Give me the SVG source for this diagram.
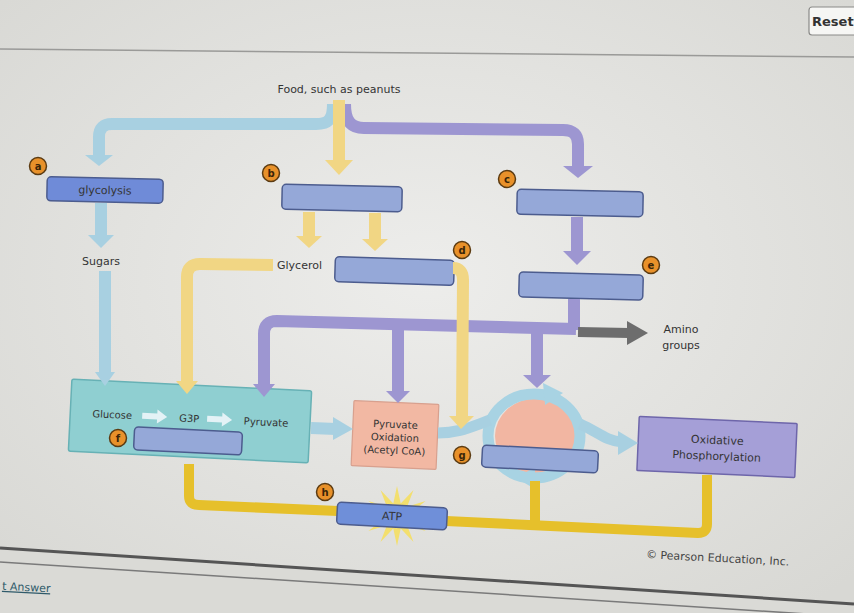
<svg xmlns="http://www.w3.org/2000/svg" width="854" height="613" viewBox="0 0 854 613">
<defs>
<radialGradient id="bg" cx="50%" cy="45%" r="70%">
<stop offset="0" stop-color="#ededeb"/>
<stop offset="1" stop-color="#d8d8d4"/>
</radialGradient>
<style>
text{font-family:"DejaVu Sans","Liberation Sans",sans-serif;fill:#343434}
.t11{font-size:11px}
.t10{font-size:10px}
.c{text-anchor:middle}
.box{fill:#95a8d8;stroke:#4c5c8e;stroke-width:1.5}
.pb{fill:none;stroke:#a8d0e1;stroke-width:12;stroke-linejoin:round}
.fb{fill:#a8d0e1}
.pp{fill:none;stroke:#9d96d1;stroke-width:12;stroke-linejoin:round}
.fp{fill:#9d96d1}
.py{fill:none;stroke:#f1d684;stroke-width:12;stroke-linejoin:round}
.fy{fill:#f1d684}
.pg{fill:none;stroke:#e6c02b;stroke-width:10;stroke-linejoin:round}
.lbl circle{fill:#e8912a;stroke:#5b3b12;stroke-width:1.5}
.lbl text{font-size:10px;font-weight:bold;fill:#3a2508;text-anchor:middle}
.wa{fill:#e4f2f6}
</style>
</defs>
<rect width="854" height="613" fill="url(#bg)"/>
<!-- page chrome -->
<line x1="0" y1="49" x2="854" y2="57" stroke="#9a9a98" stroke-width="1.5"/>
<rect x="809" y="7" width="60" height="28" rx="3" fill="#f6f6f4" stroke="#8a8a88" stroke-width="1.2"/>
<text x="812" y="26" style="font-size:13px;font-weight:bold;fill:#333">Reset</text>
<polygon points="0,548 854,604 854,613 0,613" fill="#dadad6"/>
<line x1="0" y1="548" x2="854" y2="604" stroke="#555" stroke-width="3"/>
<line x1="0" y1="562" x2="854" y2="617" stroke="#7a7a7a" stroke-width="1.5"/>
<text x="2" y="591" transform="rotate(3,25,590)" style="font-size:11px;fill:#2f5a6a;text-decoration:underline">t Answer</text>
<text x="646" y="562" transform="rotate(3,720,558)" class="t11" style="fill:#444">© Pearson Education, Inc.</text>

<text x="339" y="93" class="t11 c">Food, such as peanuts</text>
<text x="101" y="265" class="t11 c">Sugars</text>
<text x="277" y="269" class="t11">Glycerol</text>
<text x="681" y="333" class="t11 c">Amino</text>
<text x="681" y="349" class="t11 c">groups</text>

<!-- nodes -->
<g id="glycolysis" transform="rotate(1.2,105,190)">
<rect x="47" y="178" width="116" height="24" rx="4" fill="#6f8bd8" stroke="#4c5c8e" stroke-width="1.5"/>
<text x="105" y="194" class="t11 c">glycolysis</text>
</g>
<g id="box-b" transform="rotate(1.2,342,198)"><rect class="box" x="282" y="185.5" width="120" height="25" rx="4"/></g>
<g id="box-c" transform="rotate(1.1,580,203)"><rect class="box" x="517" y="190.5" width="126" height="25" rx="4"/></g>
<g id="box-d" transform="rotate(1.8,395,271)"><rect class="box" x="335" y="258.5" width="119" height="25" rx="4"/></g>
<g id="box-e" transform="rotate(1.5,581,286)"><rect class="box" x="519" y="273.5" width="124" height="25" rx="4"/></g>

<g id="glucose" transform="rotate(2.8,190,421)">
<rect x="70" y="385" width="240" height="72" rx="2" fill="#8fcfd1" stroke="#67b1b5" stroke-width="1.5"/>
<text x="112" y="422" class="t10 c">Glucose</text>
<path class="wa" d="M142,415 L157,415 L157,411 L167,418 L157,425 L157,421 L142,421 Z"/>
<text x="189" y="422" class="t10 c">G3P</text>
<path class="wa" d="M207,415 L222,415 L222,411 L232,418 L222,425 L222,421 L207,421 Z"/>
<text x="266" y="422" class="t10 c">Pyruvate</text>
<rect class="box" x="135" y="429.5" width="108" height="23" rx="4"/>
</g>

<g id="pyruvate-oxidation" transform="rotate(2.5,395,435)">
<rect x="352.5" y="402.5" width="85" height="65" rx="1" fill="#f2b8a3" stroke="#d8a08e" stroke-width="1.2"/>
<text x="395" y="428" class="t10 c">Pyruvate</text>
<text x="395" y="441" class="t10 c">Oxidation</text>
<text x="395" y="454" class="t10 c">(Acetyl CoA)</text>
</g>

<g id="cycle">
<ellipse cx="537" cy="436" rx="42" ry="38" fill="#f2b6a2"/>
<ellipse cx="534" cy="436" rx="46" ry="42" fill="none" stroke="#a8d3e3" stroke-width="11"/>
<polygon points="543,383 545,405 563,393" fill="#a8d3e3"/>
<polygon points="535,467 535,489 516,478" fill="#a8d3e3"/>
</g>
<g id="box-g" transform="rotate(3,540,459)"><rect class="box" x="482" y="448" width="116" height="22" rx="4"/></g>

<g id="oxidative-phosphorylation" transform="rotate(2.5,717,447)">
<rect x="638" y="420" width="158" height="54" rx="1" fill="#a59fd7" stroke="#6e66aa" stroke-width="1.5"/>
<text x="717" y="444" class="t11 c">Oxidative</text>
<text x="717" y="460" class="t11 c">Phosphorylation</text>
</g>

<!-- connectors -->
<g id="connectors">
<path class="pb" d="M333,104 C333,120 328,124 316,124 L112,124 Q99,124 99,137 L99,156"/>
<polygon class="fb" points="85,155 113,155 99,166"/>
<path class="pb" d="M101,203 L101,236"/>
<polygon class="fb" points="88,235 114,235 101,248"/>
<path class="pb" d="M105,271 L105,374"/>
<polygon class="fb" points="95,372 115,372 105,386"/>
<path class="pp" d="M345,104 C345,121 351,128 364,128 L563,130 Q578,130 578,144 L578,167"/>
<polygon class="fp" points="563,166 593,166 578,178"/>
<path class="py" d="M339,100 L339,161"/>
<polygon class="fy" points="325,160 353,160 339,175"/>
<path class="py" d="M309,212 L309,237"/>
<polygon class="fy" points="296,236 322,236 309,248"/>
<path class="py" d="M375,213 L375,240"/>
<polygon class="fy" points="362,239 388,239 375,251"/>
<path class="pp" d="M577,217 L577,252"/>
<polygon class="fp" points="563,251 591,251 577,265"/>
<path class="py" d="M273,265 L200,264 Q187,264 187,277 L187,382"/>
<polygon class="fy" points="176,381 198,381 187,394"/>
<path class="pp" d="M264,385 L264,334 Q264,321 277,321 L576,329"/>
<path class="pp" d="M574,299 L574,330"/>
<path class="pp" d="M398,324 L398,392"/>
<polygon class="fp" points="386,391 410,391 398,403"/>
<path class="pp" d="M537,329 L537,376"/>
<polygon class="fp" points="523,375 551,375 537,388"/>
<polygon class="fp" points="253,384 275,384 264,397"/>
<path d="M578,332 L629,333" fill="none" stroke="#6d6d6d" stroke-width="10"/>
<polygon points="627,321 627,345 648,333" fill="#6d6d6d"/>
<path class="py" d="M453,268 Q463,268 463,280 L462,417"/>
<path class="pb" d="M311,428 L336,429"/>
<polygon class="fb" points="333,417 333,440 353,429"/>
<path class="pb" style="stroke-width:11" d="M438,433 C458,433 468,428 490,420"/>
<polygon class="fy" points="449,416 474,416 461,429"/>
<path class="pb" style="stroke-width:11" d="M580,424 C598,432 606,441 622,442"/>
<polygon class="fb" points="618,431 618,455 638,443"/>
<path class="pg" d="M189,464 L189,496 Q189,505 199,505 L338,511"/>
<path class="pg" d="M446,521 L698,533 Q707,533 707,524 L707,475"/>
<path class="pg" d="M535,481 L535,528"/>
</g>

<g id="atp">
<polygon fill="#f3df6e" points="397,486 400.7,503.4 413.5,490 407.1,506.8 425.6,501 410.8,512.6 430,516 410.8,519.4 425.6,531 407.1,525.2 413.5,542 400.7,528.6 397,546 393.3,528.6 380.5,542 386.9,525.2 368.4,531 383.2,519.4 364,516 383.2,512.6 368.4,501 386.9,506.8 380.5,490 393.3,503.4"/>
<g transform="rotate(3,392,516)">
<rect x="337" y="505" width="110" height="22" rx="4" fill="#6f8fd9" stroke="#4c5c8e" stroke-width="1.5"/>
<text x="392" y="520" class="t11 c">ATP</text>
</g>
</g>

<!-- letter labels -->
<g class="lbl" id="lbl-a"><circle cx="38" cy="166" r="8.5"/><text x="38" y="169.5">a</text></g>
<g class="lbl" id="lbl-b"><circle cx="271" cy="173" r="8.5"/><text x="271" y="176.5">b</text></g>
<g class="lbl" id="lbl-c"><circle cx="507" cy="179" r="8.5"/><text x="507" y="182.5">c</text></g>
<g class="lbl" id="lbl-d"><circle cx="462" cy="250" r="8.5"/><text x="462" y="253.5">d</text></g>
<g class="lbl" id="lbl-e"><circle cx="651" cy="265" r="8.5"/><text x="651" y="268.5">e</text></g>
<g class="lbl" id="lbl-f"><circle cx="118" cy="438" r="8.5"/><text x="118" y="441.5">f</text></g>
<g class="lbl" id="lbl-g"><circle cx="462" cy="455" r="8.5"/><text x="462" y="458.5">g</text></g>
<g class="lbl" id="lbl-h"><circle cx="325" cy="492" r="8.5"/><text x="325" y="495.5">h</text></g>
</svg>
